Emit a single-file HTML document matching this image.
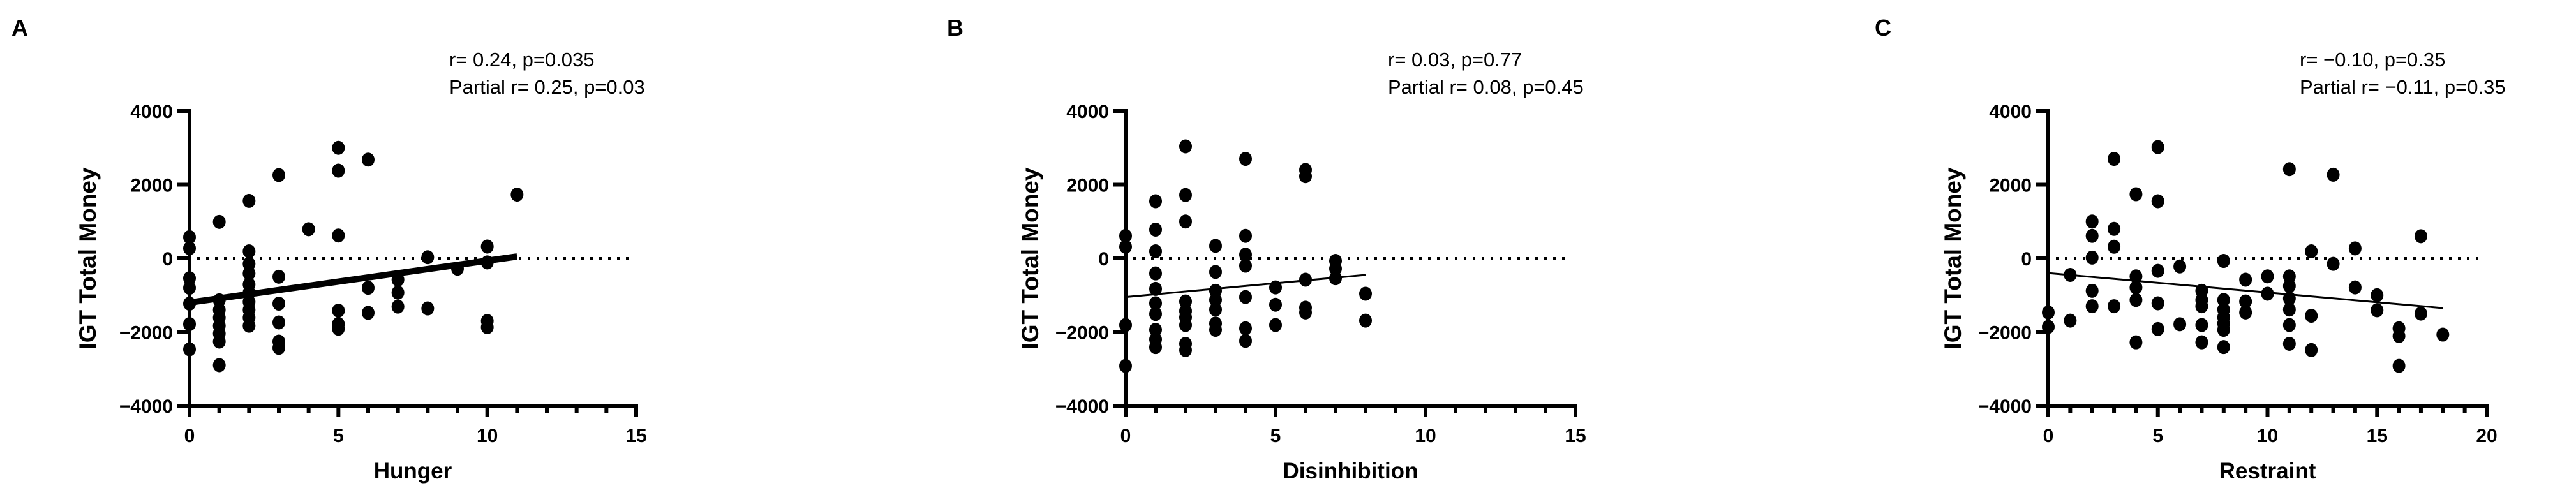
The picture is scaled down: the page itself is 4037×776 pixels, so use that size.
<!DOCTYPE html>
<html><head><meta charset="utf-8"><style>
html,body{margin:0;padding:0;background:#fff}
svg{display:block}
text{font-family:"Liberation Sans",sans-serif;fill:#000}
</style></head><body>
<svg id="fig" width="4037" height="776" viewBox="0 0 4037 776" xmlns="http://www.w3.org/2000/svg"></svg>
<script>
// Panel A: Hunger
const aX = [0,0,0,0,0,0,0, 1,1,1,1,1,1,1,1, 2,2,2,2,2,2,2,2,2,2, 3,3,3,3,3,3, 4, 5,5,5,5,5,5, 6,6,6, 7,7,7, 8,8, 9, 10,10,10,10, 11];
const aY = [575,275,-540,-800,-1230,-1785,-2470, 990,-1140,-1400,-1610,-1830,-2040,-2260,-2900, 1560,190,-150,-410,-710,-930,-1180,-1400,-1610,-1830, 2260,-500,-1230,-1740,-2260,-2430, 790, 3000,2380,620,-1420,-1785,-1910, 2680,-800,-1480, -580,-930,-1310, 30,-1360, -280, 320,-110,-1700,-1870, 1730];
const aFit = [[0,-1200],[11,50]];
// Panel B: Disinhibition
const bX = [0,0,0,0, 1,1,1,1,1,1,1,1,1,1, 2,2,2,2,2,2,2,2,2, 3,3,3,3,3,3,3, 4,4,4,4,4,4,4, 5,5,5, 6,6,6,6,6, 7,7,7, 8,8];
const bY = [610,315,-1810,-2920, 1550,780,190,-410,-830,-1220,-1510,-1940,-2200,-2410, 3040,1720,1000,-1170,-1430,-1600,-1810,-2320,-2490, 340,-370,-880,-1130,-1390,-1770,-1940, 2700,610,100,-200,-1050,-1900,-2240, -790,-1260,-1810, 2400,2230,-580,-1340,-1470, -70,-280,-540, -960,-1690];
const bFit = [[0,-1050],[8,-450]];
// Panel C: Restraint
const cX = [0,0, 1,1, 2,2,2,2,2, 3,3,3,3, 4,4,4,4,4, 5,5,5,5,5, 6,6, 7,7,7,7,7, 8,8,8,8,8,8,8, 9,9,9, 10,10, 11,11,11,11,11,11,11, 12,12,12, 13,13, 14,14, 15,15, 16,16,16, 17,17, 18];
const cY = [-1470,-1860, -450,-1690, 1000,610,20,-880,-1300, 2700,800,315,-1300, 1740,-490,-790,-1130,-2280, 3020,1550,-340,-1220,-1920, -220,-1790, -880,-1130,-1300,-1810,-2280, -70,-1130,-1390,-1600,-1770,-1940,-2410, -580,-1170,-1470, -490,-960, 2420,-490,-750,-1090,-1390,-1810,-2320, 190,-1560,-2490, 2270,-150, 270,-790, -1000,-1410, -1900,-2110,-2920, 600,-1500, -2070];
const cFit = [[0,-400],[18,-1350]];
const yTicks = [4000,2000,0,-2000,-4000];
const yTickLabels = ["4000","2000","0","\u22122000","\u22124000"];
const abTicks = [0,5,10,15];
const cTicks = [0,5,10,15,20];

const NS="http://www.w3.org/2000/svg";
const svg=document.getElementById('fig');
function mk(tag,attrs,parent){const e=document.createElementNS(NS,tag);for(const k in attrs)e.setAttribute(k,attrs[k]);(parent||svg).appendChild(e);return e;}

const panels=[
 {id:'a',letter:'A',lx:18,x0:297,xmax:15,x1:997,ticks:abTicks,xs:aX,ys:aY,fit:aFit,fitW:10,xlabel:'Hunger',s1:'r= 0.24, p=0.035',s2:'Partial r= 0.25, p=0.03',sx:704,yl:150},
 {id:'b',letter:'B',lx:1484,x0:1764,xmax:15,x1:2469,ticks:abTicks,xs:bX,ys:bY,fit:bFit,fitW:3,xlabel:'Disinhibition',s1:'r= 0.03, p=0.77',s2:'Partial r= 0.08, p=0.45',sx:2175,yl:1627},
 {id:'c',letter:'C',lx:2938,x0:3210,xmax:20,x1:3897,ticks:cTicks,xs:cX,ys:cY,fit:cFit,fitW:3,xlabel:'Restraint',s1:'r= \u22120.10, p=0.35',s2:'Partial r= \u22120.11, p=0.35',sx:3604,yl:3073}
];
const yTop=174, yBot=636;
function sy(v){return yBot-(v+4000)/8000*(yBot-yTop);}

panels.forEach(p=>{
 const g=mk('g',{});
 
 
 const sx=v=>p.x0+v/p.xmax*(p.x1-p.x0);
 const L=mk('text',{x:p.lx,y:56,'font-size':36,'font-weight':'bold'},g);L.textContent=p.letter;
 
 
 const t1=mk('text',{x:p.sx,y:104,'font-size':31},g);t1.textContent=p.s1;
 
 
 const t2=mk('text',{x:p.sx,y:147,'font-size':31},g);t2.textContent=p.s2;
 
 
 // zero dotted line
 const z=mk('line',{x1:sx(0)+12,x2:sx(p.xmax)-10,y1:sy(0),y2:sy(0),stroke:'#000','stroke-width':4,'stroke-dasharray':'4 10'},g);
 
 
 // axes
 const ya=mk('line',{x1:p.x0,x2:p.x0,y1:yTop-3,y2:yBot+18,stroke:'#000','stroke-width':6},g);
 
 
 const xa=mk('line',{x1:p.x0-20,x2:p.x1+3,y1:yBot,y2:yBot,stroke:'#000','stroke-width':6},g);
 
 
 yTicks.forEach((v,i)=>{
  mk('line',{x1:p.x0-20,x2:p.x0,y1:sy(v),y2:sy(v),stroke:'#000','stroke-width':6},g);
  const tl=mk('text',{x:p.x0-26,y:sy(v)+11,'font-size':30,'font-weight':'bold','text-anchor':'end'},g);
  tl.textContent=yTickLabels[i];
  
  
 });
 for(let u=0;u<=p.xmax;u++){
  const major=p.ticks.includes(u);
  mk('line',{x1:sx(u),x2:sx(u),y1:yBot,y2:yBot+(major?18:11),stroke:'#000','stroke-width':6},g);
 }
 p.ticks.forEach(v=>{
  const tl=mk('text',{x:sx(v),y:693,'font-size':30,'font-weight':'bold','text-anchor':'middle'},g);
  tl.textContent=String(v);
  
  
 });
 const xl=mk('text',{x:(p.x0+p.x1)/2,y:750,'font-size':35,'font-weight':'bold','text-anchor':'middle'},g);
 xl.textContent=p.xlabel;
 
 
 const yl=mk('text',{x:p.yl,y:(yTop+yBot)/2,'font-size':37,'font-weight':'bold','text-anchor':'middle',transform:`rotate(-90 ${p.yl} ${(yTop+yBot)/2})`},g);
 yl.textContent='IGT Total Money';
 
 
 p.xs.forEach((xv,i)=>{
  const d=mk('ellipse',{cx:sx(xv),cy:sy(p.ys[i]),rx:10,ry:11,fill:'#000'},g);
  
  
 });
 const f=mk('line',{x1:sx(p.fit[0][0]),y1:sy(p.fit[0][1]),x2:sx(p.fit[1][0]),y2:sy(p.fit[1][1]),stroke:'#000','stroke-width':p.fitW},g);
 
 
});
</script>
</body></html>
